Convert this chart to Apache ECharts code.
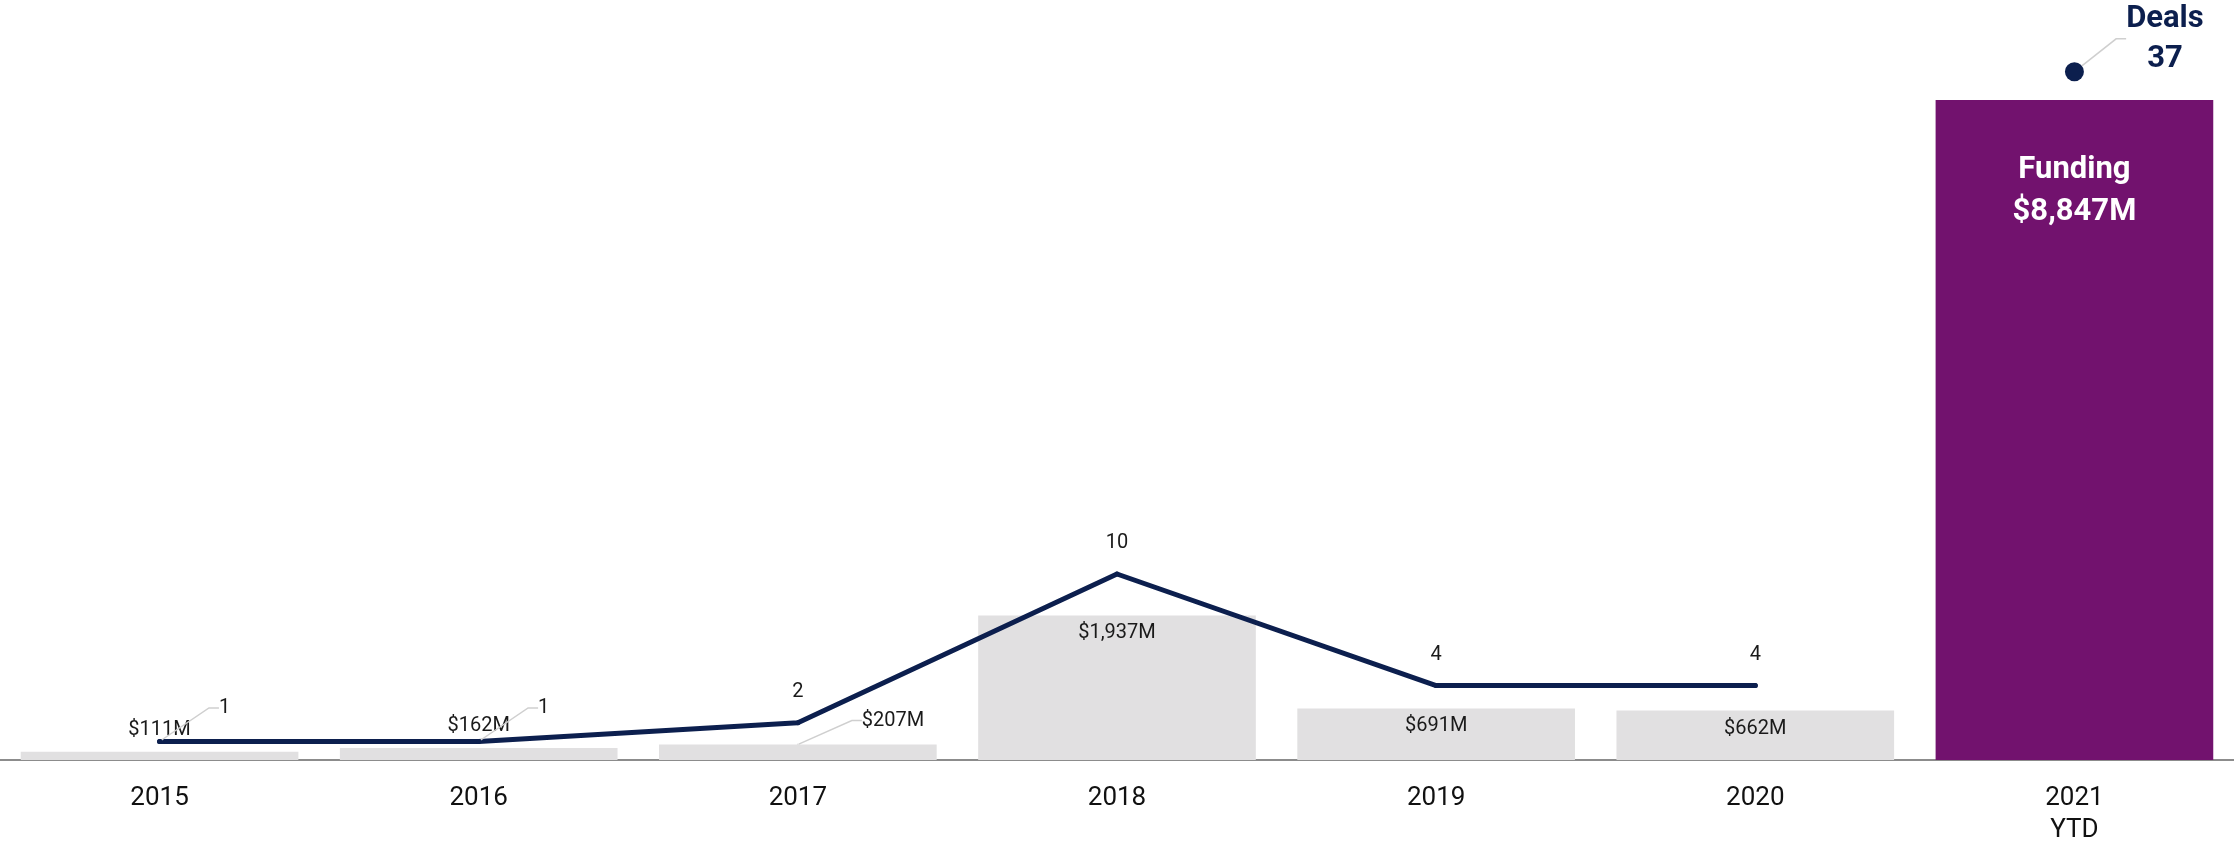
<!DOCTYPE html>
<html>
<head>
<meta charset="utf-8">
<script src="https://cdn.jsdelivr.net/npm/echarts@6/dist/echarts.min.js"></script>
<style>
  html, body { margin: 0; padding: 0; background: #ffffff; }
  #chart { width: 2234px; height: 841px; }
</style>
</head>
<body>
<div id="chart"></div>
<script>
// ---- data ----
const categories = ['2015', '2016', '2017', '2018', '2019', '2020', '2021\nYTD'];
const funding = [111, 162, 207, 1937, 691, 662, 8847];   // $M
const deals = [1, 1, 2, 10, 4, 4, 37];

// ---- styles ----
const NAVY = '#0C1F4E';
const PURPLE = '#72126E';
const GRAY = '#E1E0E1';
const TEXT = '#1a1a1a';
const LEADER = { color: '#CFCFCF', width: 1.5 };
const FONT = 'Roboto';
const ytd = categories.length - 1;

const fmtM = v => '$' + v.toLocaleString('en-US') + 'M';

const barData = funding.map((v, i) => {
  const item = { value: v, itemStyle: { color: i === ytd ? PURPLE : GRAY } };
  if (i === ytd) {
    item.label = {
      show: true, position: 'insideTop', distance: 49,
      color: '#ffffff', fontSize: 31, fontWeight: 'bold', lineHeight: 42,
      formatter: p => 'Funding\n' + fmtM(p.value)
    };
  } else if (i === 2) {
    item.label = { show: false };
  } else if (i < 2) {
    item.label = { show: true, position: 'top', distance: 12 };
  } else {
    item.label = { show: true, position: 'insideTop', distance: 8 };
  }
  return item;
});

// helper anchor for the moved funding label (2017)
const anchorData = funding.map((v, i) => (i === 2 ? v : '-'));

const lineData = deals.map((v, i) => (i === ytd ? '-' : { value: v, labelLine: { show: i < 2 } }));
const dotData = deals.map((v, i) => (i === ytd ? v : '-'));

const chart = echarts.init(document.getElementById('chart'), null, { renderer: 'canvas' });
chart.setOption({
  animation: false,
  backgroundColor: '#ffffff',
  textStyle: { fontFamily: FONT },
  grid: { left: 0, right: 0, top: 0, bottom: 81, containLabel: false, outerBoundsMode: 'none' },
  xAxis: {
    type: 'category',
    data: categories,
    axisTick: { show: false },
    axisLine: { lineStyle: { color: '#8C8C8C', width: 2 } },
    axisLabel: { color: '#111', fontSize: 26, fontFamily: FONT, margin: 22, lineHeight: 32 }
  },
  yAxis: [
    { type: 'value', min: 0, max: 10187, show: false, splitLine: { show: false } },
    { type: 'value', min: 0, max: 40.86, show: false, splitLine: { show: false } }
  ],
  series: [
    {
      name: 'Funding',
      type: 'bar',
      yAxisIndex: 0,
      barCategoryGap: '13%',
      data: barData,
      label: { color: TEXT, fontSize: 20, fontFamily: FONT, formatter: p => fmtM(p.value) },
      z: 1
    },
    {
      name: 'FundingLabel',
      type: 'scatter',
      yAxisIndex: 0,
      data: anchorData,
      symbolSize: 2,
      itemStyle: { color: GRAY, opacity: 1 },
      label: {
        show: true, position: 'right', distance: 5,
        color: TEXT, fontSize: 20, fontFamily: FONT,
        formatter: p => fmtM(p.value)
      },
      labelLayout: () => ({ dx: 58, dy: -24 }),
      labelLine: { show: true, length2: 10, lineStyle: LEADER },
      z: 2
    },
    {
      name: 'Deals',
      type: 'line',
      yAxisIndex: 1,
      data: lineData,
      connectNulls: false,
      symbol: 'circle',
      symbolSize: 5,
      showSymbol: true,
      itemStyle: { color: NAVY },
      lineStyle: { color: NAVY, width: 5, cap: 'round', join: 'round' },
      label: {
        show: true, position: 'top', distance: 18,
        color: TEXT, fontSize: 20, fontFamily: FONT
      },
      labelLayout: p => (p.dataIndex < 2 ? { dx: 65, dy: -3 } : {}),
      labelLine: { show: false, length2: 10, lineStyle: LEADER },
      z: 3
    },
    {
      name: 'DealsYTD',
      type: 'scatter',
      yAxisIndex: 1,
      data: dotData,
      symbol: 'circle',
      symbolSize: 19,
      itemStyle: { color: NAVY, opacity: 1 },
      label: {
        show: true, position: 'right', distance: 5, align: 'center',
        color: NAVY, fontSize: 31, fontWeight: 'bold', lineHeight: 40, fontFamily: FONT,
        formatter: p => 'Deals\n' + p.value
      },
      labelLayout: () => ({ dx: 76, dy: -33 }),
      labelLine: { show: true, showAbove: true, length2: 10, lineStyle: LEADER },
      z: 4
    }
  ]
});
</script>
</body>
</html>
